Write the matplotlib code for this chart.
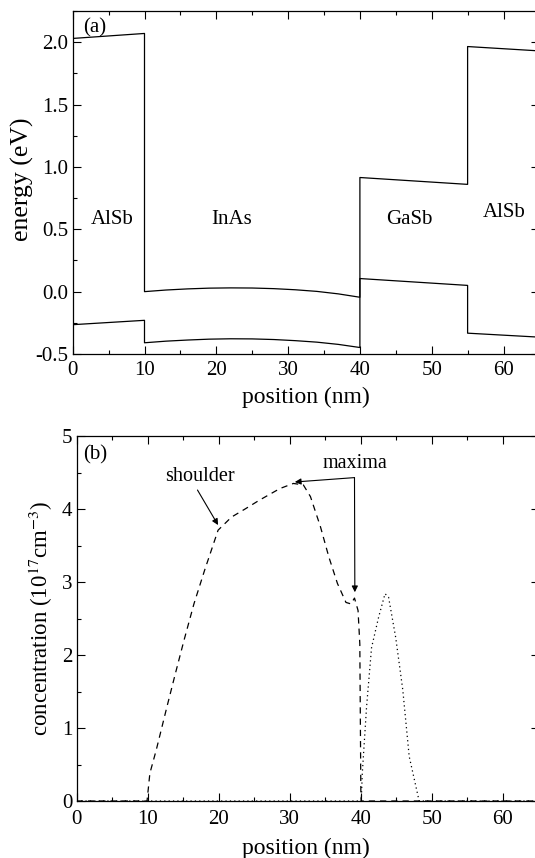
import matplotlib
matplotlib.use("Agg")
import matplotlib.pyplot as plt
from matplotlib.ticker import MultipleLocator

plt.rcParams['font.family'] = ['Liberation Serif', 'DejaVu Serif']
plt.rcParams['mathtext.fontset'] = 'stix'
plt.rcParams['axes.unicode_minus'] = False

# ---- panel (a): band edges ----
band_x = [0, 10, 10, 13, 16, 19, 22, 25, 28, 31, 34, 37, 40, 40, 55, 55, 65]
cb_y = [2.03, 2.07, 0.00, 0.013, 0.022, 0.028, 0.030, 0.029, 0.024, 0.015, 0.002, -0.018, -0.045,
        0.915, 0.86, 1.965, 1.93]
vb_y = [-0.265, -0.23, -0.41, -0.397, -0.388, -0.381, -0.378, -0.379, -0.384, -0.393, -0.405, -0.423, -0.448,
        0.105, 0.05, -0.333, -0.365]
layer_names = ["AlSb", "InAs", "GaSb", "AlSb"]
layer_label_x = [5.56, 22.2, 46.9, 60.1]
layer_label_y = [0.54, 0.54, 0.54, 0.60]

# ---- panel (b): carrier concentrations ----
elec_x = [0, 9.9, 10.3, 11.2, 12.7, 13.9, 15.1, 16.5, 18.0, 19.9, 21.8, 23.7, 25.7, 28.6, 30.5, 31.9,
          32.9, 34.3, 35.5, 36.7, 37.9, 38.6, 39.1, 39.6, 39.85, 40.0, 40.05, 65]
elec_y = [0, 0, 0.38, 0.70, 1.29, 1.75, 2.2, 2.70, 3.16, 3.71, 3.89, 4.0, 4.12, 4.28, 4.35, 4.33,
          4.17, 3.76, 3.34, 2.98, 2.72, 2.70, 2.78, 2.61, 2.15, 0.06, 0, 0]
hole_x = [0, 40.05, 40.2, 40.8, 41.5, 42.5, 43.4, 43.9, 44.9, 45.9, 46.8, 48.2, 65]
hole_y = [0, 0.0, 0.38, 1.29, 2.1, 2.52, 2.84, 2.79, 2.24, 1.52, 0.61, 0.0, 0]

W, H = 535, 858
fig = plt.figure(figsize=(W / 100, H / 100), dpi=100)

def ax_rect(l, r, t, b):
    return [l / W, 1 - b / H, (r - l) / W, (b - t) / H]

axA = fig.add_axes(ax_rect(72.7, 539.4, 11, 354))
axB = fig.add_axes(ax_rect(76.7, 538.5, 436, 801))

lw = 0.9
axA.plot(band_x, cb_y, color='black', lw=lw)
axA.plot(band_x, vb_y, color='black', lw=lw)
for name, x, y in zip(layer_names, layer_label_x, layer_label_y):
    axA.text(x, y, name, ha='center', va='baseline', fontsize=15)
axA.text(1.5, 2.075, "(a)", ha='left', va='baseline', fontsize=15)
axA.set_xlim(0, 65)
axA.set_ylim(-0.5, 2.25)
axA.xaxis.set_major_locator(MultipleLocator(10))
axA.xaxis.set_minor_locator(MultipleLocator(5))
axA.yaxis.set_major_locator(MultipleLocator(0.5))
axA.yaxis.set_minor_locator(MultipleLocator(0.25))
fig.text(306 / W, 1 - 397 / H, "position (nm)", ha='center', va='center', fontsize=17)
fig.text(22 / W, 1 - 179 / H, "energy (eV)", rotation=90, ha='center', va='center', fontsize=18.5)

axB.plot(elec_x, elec_y, color='black', lw=lw, linestyle=(0, (5, 4)))
axB.plot(hole_x, hole_y, color='black', lw=lw, linestyle=(0, (1, 2.5)))
axB.set_xlim(0, 65)
axB.set_ylim(0, 5)
axB.xaxis.set_major_locator(MultipleLocator(10))
axB.xaxis.set_minor_locator(MultipleLocator(5))
axB.yaxis.set_major_locator(MultipleLocator(1))
axB.yaxis.set_minor_locator(MultipleLocator(0.5))
fig.text(306 / W, 1 - 848 / H, "position (nm)", ha='center', va='center', fontsize=17)
fig.text(41 / W, 1 - 618.5 / H, "concentration (10$^{17}$cm$^{-3}$)", rotation=90,
         ha='center', va='center', fontsize=16.5)
axB.text(0.97, 4.68, "(b)", ha='left', va='baseline', fontsize=15)

arrow = dict(arrowstyle='-|>', mutation_scale=9, lw=0.8, color='black', shrinkA=0, shrinkB=0)
axB.text(17.4, 4.38, "shoulder", ha='center', va='baseline', fontsize=14.5)
axB.annotate("", xy=(19.9, 3.78), xytext=(17.0, 4.26), arrowprops=arrow)
axB.text(39.1, 4.56, "maxima", ha='center', va='baseline', fontsize=14.5)
axB.annotate("", xy=(30.7, 4.37), xytext=(39.1, 4.43), arrowprops=arrow)
axB.annotate("", xy=(39.15, 2.86), xytext=(39.1, 4.43), arrowprops=arrow)

for ax, xpad in ((axA, 4.7), (axB, 6.8)):
    ax.tick_params(which='both', direction='in', top=True, right=True, labelsize=15)
    ax.tick_params(axis='x', which='both', pad=xpad)
    ax.tick_params(axis='y', which='both', pad=3)
    ax.tick_params(which='major', length=5.5, width=0.8)
    ax.tick_params(which='minor', length=3, width=0.8)
    for s in ax.spines.values():
        s.set_linewidth(0.9)

fig.savefig("out.png", dpi=100)
